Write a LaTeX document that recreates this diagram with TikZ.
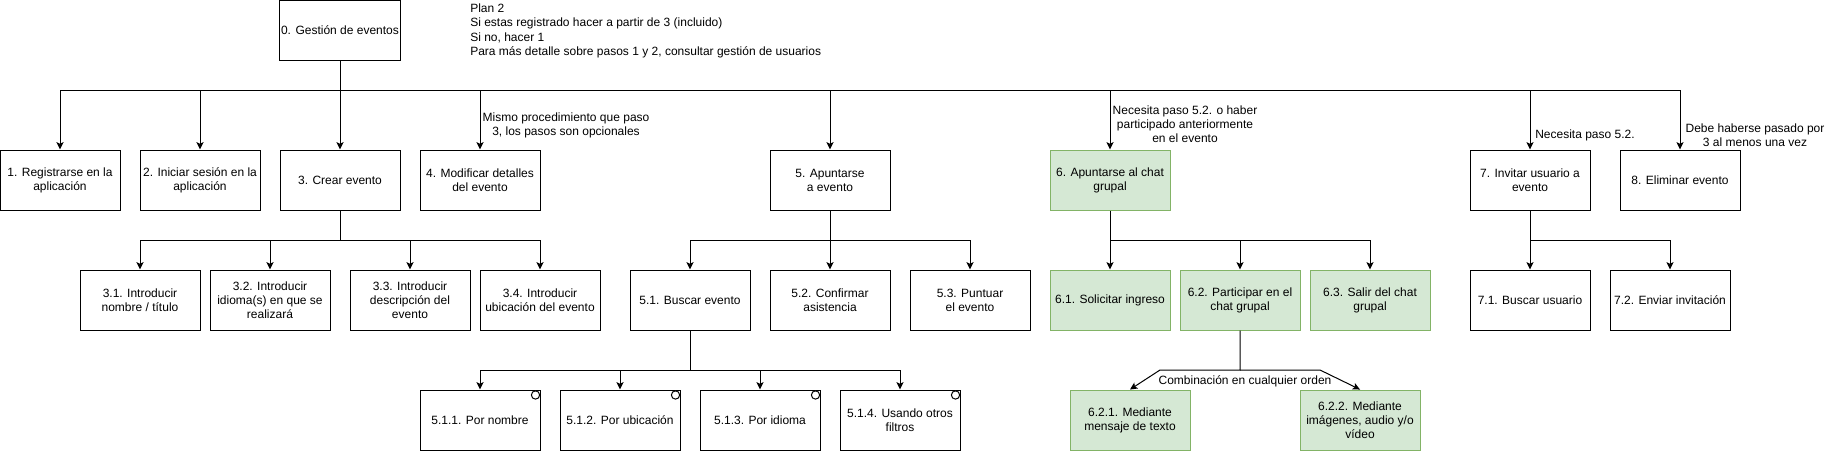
\documentclass[tikz,border=0pt]{standalone}
\usepackage{fontspec}
\setmainfont{Liberation Sans}
\usetikzlibrary{arrows.meta,calc}
\definecolor{gfill}{HTML}{D5E8D4}
\definecolor{gline}{HTML}{82B366}
\begin{document}
\begin{tikzpicture}[x=0.75pt,y=-0.75pt,
  font=\fontsize{9pt}{10.6pt}\selectfont,
  box/.style={draw=black, line width=0.75pt, minimum width=90pt, minimum height=45pt, inner sep=1pt, align=center, fill=white},
  gbox/.style={box, fill=gfill, draw=gline},
  arr/.style={-{Stealth[length=5.5pt,width=5.25pt,inset=1.2pt]}, line width=0.75pt},
  conn/.style={line width=0.75pt},
  lab/.style={align=center, inner sep=0pt},
  opt/.style={circle, draw=black, fill=white, line width=0.75pt, minimum size=6.2pt, inner sep=0pt}]
\useasboundingbox (0,0) rectangle (1831,451);

% top
\node[box] (b0) at (340,30.5) {0. Gestión de eventos};
\node[lab, anchor=north west, align=left, font=\fontsize{9pt}{10.8pt}\selectfont] (plan) at (470,3.5)
  {Plan 2\\Si estas registrado hacer a partir de 3 (incluido)\\Si no, hacer 1\\Para más detalle sobre pasos 1 y 2, consultar gestión de usuarios};

% row 2
\node[box] (b1) at (60,180) {1. Registrarse en la\\aplicación};
\node[box] (b2) at (200,180) {2. Iniciar sesión en la\\aplicación};
\node[box] (b3) at (340,180) {3. Crear evento};
\node[box] (b4) at (480,180) {4. Modificar detalles\\del evento};
\node[box] (b5) at (830,180) {5. Apuntarse\\a evento};
\node[gbox] (b6) at (1110,180) {6. Apuntarse al chat\\grupal};
\node[box] (b7) at (1530,180) {7. Invitar usuario a\\evento};
\node[box] (b8) at (1680,180) {8. Eliminar evento};

% row 3
\node[box] (b31) at (140,300) {3.1. Introducir\\nombre / título};
\node[box] (b32) at (270,300) {3.2. Introducir\\idioma(s) en que se\\realizará};
\node[box] (b33) at (410,300) {3.3. Introducir\\descripción del\\evento};
\node[box] (b34) at (540,300) {3.4. Introducir\\ubicación del evento};
\node[box] (b51) at (690,300) {5.1. Buscar evento};
\node[box] (b52) at (830,300) {5.2. Confirmar\\asistencia};
\node[box] (b53) at (970,300) {5.3. Puntuar\\el evento};
\node[gbox] (b61) at (1110,300) {6.1. Solicitar ingreso};
\node[gbox] (b62) at (1240,300) {6.2. Participar en el\\chat grupal};
\node[gbox] (b63) at (1370,300) {6.3. Salir del chat\\grupal};
\node[box] (b71) at (1530,300) {7.1. Buscar usuario};
\node[box] (b72) at (1670,300) {7.2. Enviar invitación};

% row 4
\node[box] (b511) at (480,420) {5.1.1. Por nombre};
\node[box] (b512) at (620,420) {5.1.2. Por ubicación};
\node[box] (b513) at (760,420) {5.1.3. Por idioma};
\node[box] (b514) at (900,420) {5.1.4. Usando otros\\filtros};
\node[gbox] (b621) at (1130,420) {6.2.1. Mediante\\mensaje de texto};
\node[gbox] (b622) at (1360,420) {6.2.2. Mediante\\imágenes, audio y/o\\vídeo};

% option markers
\foreach \n in {b511,b512,b513,b514}
  \node[opt] (o\n) at ($(\n.north east)+(-5,5.5)$) {};

% connectors level 1
\coordinate (bus) at (340,90);
\draw[conn] (b0.south) -- (bus);
\foreach \n in {b1,b2,b3,b4,b5,b6,b7,b8}
  \draw[arr] (bus) -| (\n.north);

% level 2
\coordinate (j3) at (340,240);
\draw[conn] (b3.south) -- (j3);
\foreach \n in {b31,b32,b33,b34} \draw[arr] (j3) -| (\n.north);
\coordinate (j5) at (830,240);
\draw[conn] (b5.south) -- (j5);
\foreach \n in {b51,b52,b53} \draw[arr] (j5) -| (\n.north);
\coordinate (j6) at (1110,240);
\draw[conn] (b6.south) -- (j6);
\foreach \n in {b61,b62,b63} \draw[arr] (j6) -| (\n.north);
\coordinate (j7) at (1530,240);
\draw[conn] (b7.south) -- (j7);
\foreach \n in {b71,b72} \draw[arr] (j7) -| (\n.north);

% level 3
\coordinate (j51) at (690,370);
\draw[conn] (b51.south) -- (j51);
\foreach \n in {b511,b512,b513,b514} \draw[arr] (j51) -| (\n.north);
\coordinate (j62) at (1240,370);
\coordinate (j62l) at (1160,370);
\coordinate (j62r) at (1320,370);
\draw[arr] (b62.south) -- (j62) -- (j62l) -- (b621.north);
\draw[arr] (j62) -- (j62r) -- (b622.north);

% labels
\node[lab] (l4) at (566,125.5) {Mismo procedimiento que paso\\3, los pasos son opcionales};
\node[lab] (l6) at (1185,124.5) {Necesita paso 5.2. o haber\\participado anteriormente\\en el evento};
\node[lab] (l7) at (1585,135) {Necesita paso 5.2.};
\node[lab] (l8) at (1755,135.5) {Debe haberse pasado por\\3 al menos una vez};
\node[lab] (l62) at (1245,381) {Combinación en cualquier orden};
\end{tikzpicture}
\end{document}
